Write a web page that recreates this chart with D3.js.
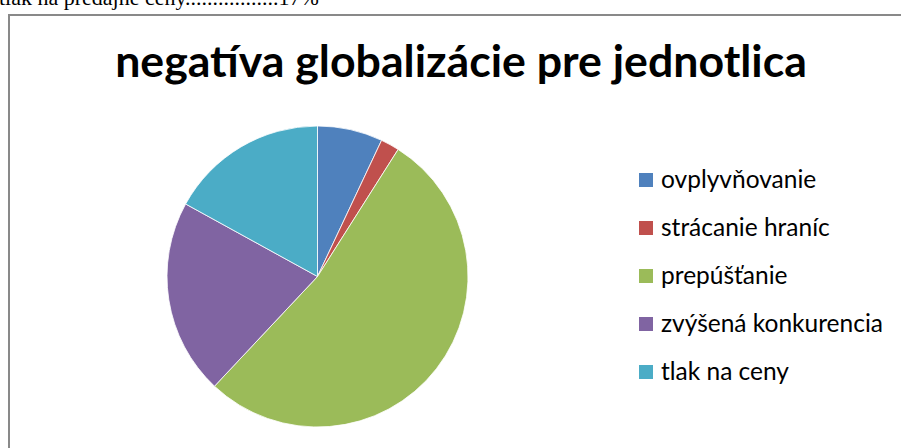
<html>
<head>
<meta charset="utf-8">
<title>negatíva globalizácie</title>
<style>
  body { margin: 0; background: #fff; overflow: hidden; }
  svg { display: block; }
  .title { font-family: Lato, 'Open Sans', sans-serif; font-weight: bold; }
  .legend text { font-family: Lato, 'Open Sans', sans-serif; }
  .above { font-family: 'Liberation Serif', 'DejaVu Serif', serif; }
</style>
</head>
<body>
<div id="chart"></div>
<script src="https://cdnjs.cloudflare.com/ajax/libs/d3/7.8.5/d3.min.js"></script>
<script>
  // data
  const labels = ["ovplyvňovanie", "strácanie hraníc", "prepúšťanie", "zvýšená konkurencia", "tlak na ceny"]
  const values = [7, 2, 53, 21, 17]
  const colors = ["#4F81BD", "#C0504D", "#9BBB59", "#8064A2", "#4BACC6"]
  const titleText = "negatíva globalizácie pre jednotlica"
  const aboveText = "tlak na predajné ceny.................17%"

  const width = 901, height = 448
  const cx = 317.5, cy = 276.5, radius = 150.5

  const svg = d3.select("#chart").append("svg")
    .attr("width", width)
    .attr("height", height)

  // cut-off line of the document text above the chart
  svg.append("text")
    .attr("class", "above")
    .attr("x", -1)
    .attr("y", 5)
    .attr("font-size", 22)
    .text(aboveText)

  // chart frame (right and bottom edges run off the picture)
  svg.append("rect")
    .attr("x", 9)
    .attr("y", 15)
    .attr("width", 1000)
    .attr("height", 1000)
    .attr("fill", "#fff")
    .attr("stroke", "#898989")
    .attr("stroke-width", 2)

  // title, fitted to the width it has in the reference
  const title = svg.append("text")
    .attr("class", "title")
    .attr("x", 461)
    .attr("y", 77)
    .attr("text-anchor", "middle")
    .attr("font-size", 40)
    .text(titleText)
  const tw = title.node().getComputedTextLength()
  title.attr("font-size", 40 * 692 / tw)

  const colorScale = d3.scaleOrdinal().domain(labels).range(colors)

  const pie = d3.pie().sort(null).value(d => d.value)
  const arc = d3.arc().innerRadius(0).outerRadius(radius)
  const slices = labels.map((l, i) => ({ label: l, value: values[i] }))

  svg.append("g")
    .attr("transform", `translate(${cx},${cy})`)
    .selectAll("path")
    .data(pie(slices))
    .join("path")
    .attr("d", arc)
    .attr("fill", d => colorScale(d.data.label))
    .attr("stroke", "#fff")
    .attr("stroke-width", 0.8)

  // legend
  const legendY = d3.scalePoint().domain(labels).range([180, 372])

  const legend = svg.selectAll(".legend")
    .data(labels)
    .join("g")
    .attr("class", "legend")
    .attr("transform", d => `translate(639,${legendY(d)})`)

  legend.append("rect")
    .attr("x", 0)
    .attr("y", -7)
    .attr("width", 14)
    .attr("height", 14)
    .attr("fill", d => colorScale(d))

  const ltext = legend.append("text")
    .attr("x", 22)
    .attr("y", 8)
    .attr("font-size", 20)
    .attr("fill", "#000")
    .text(d => d)
  const lw = ltext.filter((d, i) => i === 3).node().getComputedTextLength()
  ltext.attr("font-size", 20 * 222 / lw)
</script>
</body>
</html>
